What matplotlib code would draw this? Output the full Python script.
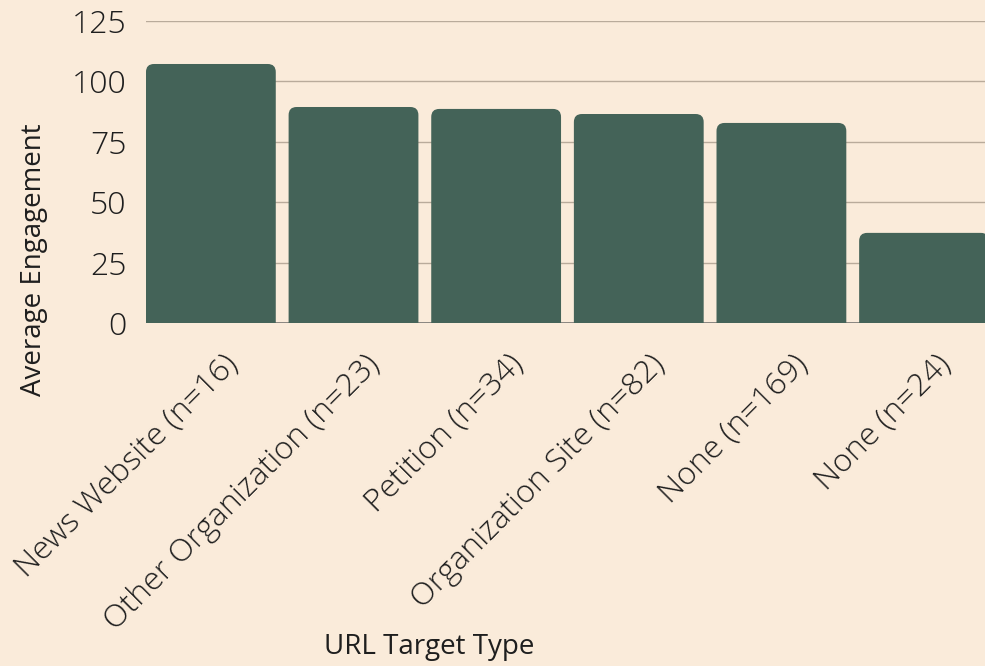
import matplotlib
matplotlib.use('Agg')
import matplotlib.pyplot as plt
from matplotlib import font_manager
from matplotlib.patches import FancyBboxPatch
from matplotlib.transforms import ScaledTranslation

categories = ['News Website (n=16)', 'Other Organization (n=23)', 'Petition (n=34)',
              'Organization Site (n=82)', 'None (n=169)', 'None (n=24)']
engagement = [107.2, 89.4, 88.6, 86.5, 82.8, 37.3]
y_ticks = [0, 25, 50, 75, 100, 125]

bg = '#FAEBDA'
bar_color = '#446358'
grid_color = '#B9AB9B'
text_color = '#1E1E1E'

# prefer a light weight face if one is installed
fonts = [(f.name, f.weight) for f in font_manager.fontManager.ttflist]
family = 'Open Sans'
for name in ['Open Sans', 'Lato', 'Roboto', 'Noto Sans']:
    if (name, 300) in fonts or (name, 200) in fonts:
        family = name
        break
plt.rcParams['font.family'] = [family, 'DejaVu Sans']
plt.rcParams['font.weight'] = 'light'

fig = plt.figure(figsize=(9.85, 6.66), dpi=100, facecolor=bg)
ax = fig.add_axes([0.1482, 0.515, 0.8558, 0.4535])
ax.set_facecolor(bg)

x = list(range(len(categories)))
bars = ax.bar(x, engagement, width=0.91, color=bar_color, zorder=2)
ax.set_xlim(-0.455, len(categories) - 1 + 0.455)
ax.set_ylim(0, 125)

# swap plain rectangles for ones with rounded tops
px_x = 843 / (ax.get_xlim()[1] - ax.get_xlim()[0])
px_y = 302 / 125
radius = 8 / px_x
for b in bars:
    b.set_visible(False)
    rb = FancyBboxPatch((b.get_x(), -10), b.get_width(), b.get_height() + 10,
                        boxstyle=f"round,pad=0,rounding_size={radius}",
                        mutation_aspect=px_x / px_y,
                        facecolor=bar_color, edgecolor='none', zorder=2)
    ax.add_patch(rb)

ax.set_yticks(y_ticks)
ax.yaxis.grid(True, color=grid_color, linewidth=1, zorder=0)
ax.axhline(0, color='#6b6b6b', linewidth=1.2, zorder=1)
for s in ax.spines.values():
    s.set_visible(False)
ax.tick_params(axis='both', length=0, colors=text_color)
ax.tick_params(axis='y', labelsize=23, pad=14)

ax.set_xticks(x)
ax.set_xticklabels(categories, rotation=45, ha='right', va='center',
                   rotation_mode='anchor', fontsize=23)
offset = ScaledTranslation(22 / 100, -32 / 100, fig.dpi_scale_trans)
for lbl in ax.get_xticklabels():
    lbl.set_transform(lbl.get_transform() + offset)

ax.set_ylabel('Average Engagement', fontsize=20, color=text_color)
ax.yaxis.set_label_coords(-0.116, 0.21)
ax.set_xlabel('URL Target Type', fontsize=20, color=text_color)
ax.xaxis.set_label_coords(0.336, -1.025)

fig.savefig('out.png', dpi=100, facecolor=bg)
